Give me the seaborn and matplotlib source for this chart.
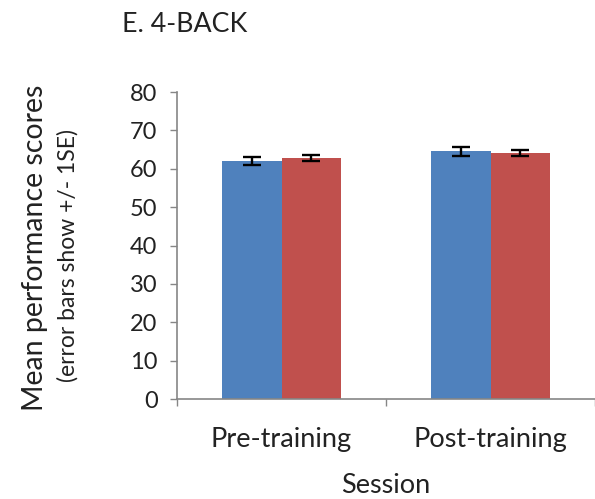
import matplotlib
matplotlib.use("Agg")
import matplotlib.pyplot as plt
import seaborn as sns
import pandas as pd
import numpy as np

# Session categories and training groups
sessions = ["Pre-training", "Post-training"]
groups = ["Group A", "Group B"]

# Mean 4-back performance per session, one list per group
group_a_means = [62.0, 64.5]
group_b_means = [62.9, 64.0]

# Standard errors (+/- 1 SE)
group_a_se = [1.0, 1.1]
group_b_se = [0.8, 0.8]

yticks = [0, 10, 20, 30, 40, 50, 60, 70, 80]

df = pd.DataFrame({
    "Session": sessions * 2,
    "Group": [groups[0]] * 2 + [groups[1]] * 2,
    "Score": group_a_means + group_b_means,
    "SE": group_a_se + group_b_se,
})

sns.set_style("white")
plt.rcParams["font.family"] = ["Lato", "DejaVu Sans"]

fig = plt.figure(figsize=(5.95, 4.99), dpi=100)
ax = fig.add_axes([177 / 595, 1 - 399 / 499, 418 / 595, 307 / 499])

palette = {groups[0]: "#4F81BD", groups[1]: "#C0504D"}
sns.barplot(data=df, x="Session", y="Score", hue="Group", order=sessions,
            hue_order=groups, palette=palette, width=0.572, errorbar=None,
            saturation=1, legend=False, linewidth=0, ax=ax)

# Error bars centred on each bar
for container, grp in zip(ax.containers, groups):
    sub = df[df["Group"] == grp].set_index("Session").loc[sessions]
    xs = [p.get_x() + p.get_width() / 2 for p in container.patches]
    ax.errorbar(xs, sub["Score"].values, yerr=sub["SE"].values, fmt="none",
                ecolor="black", elinewidth=1.7, capsize=6.5, capthick=1.7, zorder=5)

ax.set_ylim(0, 80)
ax.set_xlim(-0.5, 1.49)
ax.set_yticks(yticks)
ax.set_yticklabels([str(t) for t in yticks])

# Category boundary ticks on the x-axis
ax.set_xticks([-0.5, 0.5, 1.5], minor=True)
ax.tick_params(axis="x", which="major", length=0, pad=20, labelsize=19.5,
               labelcolor="#222222")
ax.tick_params(axis="x", which="minor", length=5, width=1, color="#868686",
               direction="out")
ax.tick_params(axis="y", which="major", length=5, width=1, color="#868686",
               direction="out", labelsize=17, labelcolor="#222222", pad=9)
ax.xaxis.set_ticks_position("bottom")
ax.yaxis.set_ticks_position("left")

for side in ["top", "right"]:
    ax.spines[side].set_visible(False)
for side in ["left", "bottom"]:
    ax.spines[side].set_color("#868686")
    ax.spines[side].set_linewidth(1.2)

ax.set_xlabel("Session", fontsize=19.5, color="#222222", labelpad=15)
ax.set_ylabel("")

fig.text(35 / 595, 1 - 248 / 499, "Mean performance scores", rotation=90,
         ha="center", va="center", fontsize=20.5, color="#222222")
fig.text(68 / 595, 1 - 255 / 499, "(error bars show +/- 1SE)", rotation=90,
         ha="center", va="center", fontsize=16.5, color="#222222")

fig.text(122 / 595, 1 - 25 / 499, "E. 4-BACK", ha="left", va="center",
         fontsize=19.3, color="#222222")

fig.savefig("out.png", dpi=100)
